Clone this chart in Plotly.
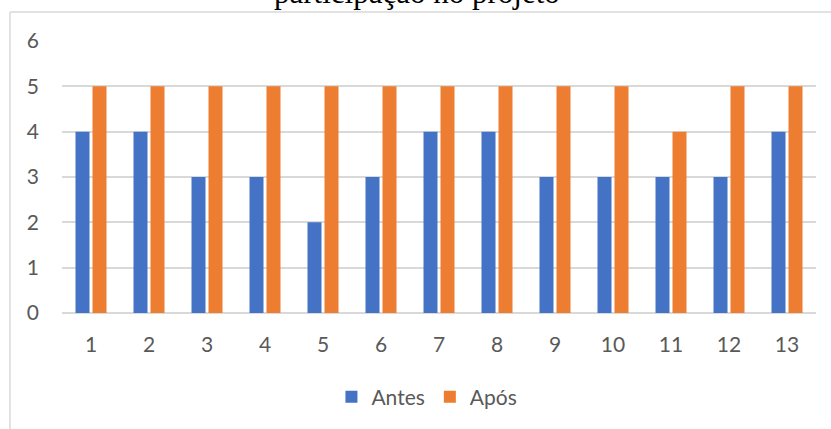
import plotly.graph_objects as go

categorias = [str(i) for i in range(1, 14)]
antes = [4, 4, 3, 3, 2, 3, 4, 4, 3, 3, 3, 3, 4]
apos = [5, 5, 5, 5, 5, 5, 5, 5, 5, 5, 4, 5, 5]

AZUL = "#4472C4"
LARANJA = "#ED7D31"
TEXTO = "#595959"
GRADE = "#D9D9D9"

fig = go.Figure()
fig.add_trace(go.Bar(x=categorias, y=antes, name="Antes", marker_color=AZUL,
                     marker_line_width=0, hoverinfo="skip"))
fig.add_trace(go.Bar(x=categorias, y=apos, name="Após", marker_color=LARANJA,
                     marker_line_width=0, hoverinfo="skip"))

# moldura do gráfico (recortada à direita e embaixo)
borda = dict(type="line", xref="paper", yref="paper",
             line=dict(color=GRADE, width=1.5), layer="above")

fig.update_layout(
    width=831, height=429,
    barmode="group", bargap=0.414, bargroupgap=0.176,
    paper_bgcolor="white", plot_bgcolor="white",
    margin=dict(l=62, r=15, t=41, b=116, autoexpand=False),
    font=dict(family="Lato, Open Sans, sans-serif", size=21, color=TEXTO),
    xaxis=dict(type="category", showgrid=False, showline=False, zeroline=False,
               ticks="", ticklabelstandoff=17),
    yaxis=dict(range=[0, 6], dtick=1, showgrid=True, gridcolor=GRADE, gridwidth=1.5,
               zeroline=True, zerolinecolor=GRADE, zerolinewidth=1.5,
               showline=False, ticks="", ticklabelstandoff=22),
    legend=dict(orientation="h", x=0.484, xanchor="center", y=-0.309, yanchor="middle",
                font=dict(size=21, color=TEXTO), itemwidth=30, traceorder="normal"),
    shapes=[
        dict(borda, x0=-0.069, x1=1.05, y0=1.1066, y1=1.1066),
        dict(borda, x0=-0.069, x1=-0.069, y0=-0.6, y1=1.1066),
    ],
    annotations=[dict(text="participação no projeto", xref="paper", yref="paper",
                      x=0.471, y=1.18, xanchor="center", yanchor="middle",
                      showarrow=False,
                      font=dict(family="Liberation Serif, Times New Roman, serif",
                                size=31, color="black"))],
)

# a página padrão tem margem de 8px no body; zera para alinhar ao recorte
fig.write_html("out.html", config={"displayModeBar": False},
               post_script="document.body.style.margin='0';")
